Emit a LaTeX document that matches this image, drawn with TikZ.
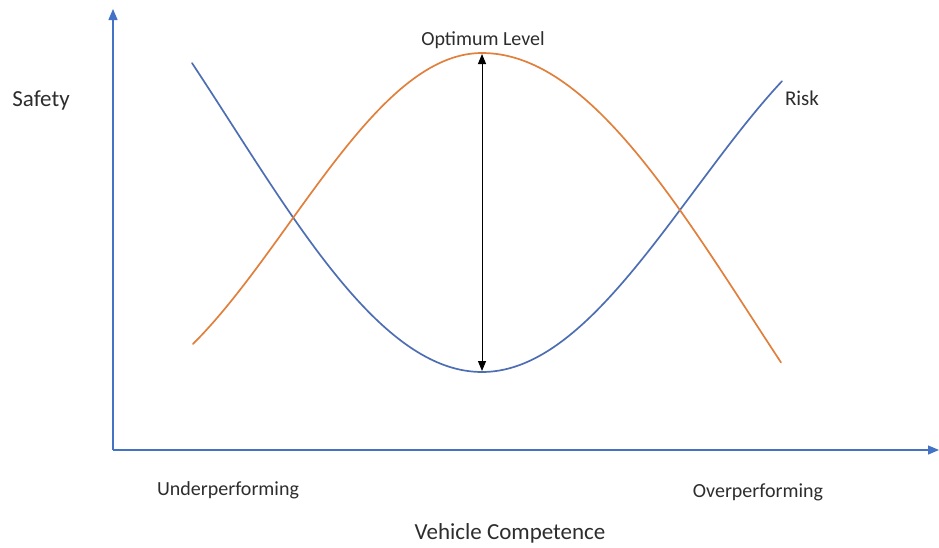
\documentclass[tikz,border=0pt]{standalone}
\usepackage{fontspec}
\setmainfont{Carlito}
\usetikzlibrary{arrows.meta}
\definecolor{axisblue}{RGB}{68,114,196}
\definecolor{riskblue}{RGB}{78,110,180}
\definecolor{safeorange}{RGB}{225,128,60}
\definecolor{txt}{RGB}{45,45,45}
\tikzset{
  axisline/.style={draw=axisblue, line width=1.3pt, -{Triangle[length=11pt,width=9pt]}},
  curveline/.style={line width=1.7pt, line cap=round, line join=round},
  lbl/.style={text=txt, font=\fontsize{20}{24}\selectfont, inner sep=0pt},
  optarrow/.style={draw=black, line width=1pt, {Triangle[length=10pt,width=8pt]}-{Triangle[length=10pt,width=8pt]}}
}
\begin{document}
\begin{tikzpicture}[x=1pt, y=-1pt]
\useasboundingbox (0,0) rectangle (939,547);
\coordinate (origin) at (113,450);
\coordinate (ytip) at (113,9);
\coordinate (xtip) at (939,450);
\draw[axisline] (origin) -- (ytip);
\draw[axisline] (origin) -- (xtip);
% Risk curve (blue)
\draw[curveline, draw=riskblue]
  plot[domain=192:482, samples=90, variable=\t] (\t, {123.2+248.8*cos(0.3586*(\t-482))})
  -- plot[domain=482:782, samples=90, variable=\t] (\t, {190.4+181.6*cos(0.4233*(\t-482))});
% Safety curve (orange)
\draw[curveline, draw=safeorange]
  plot[domain=193:482, samples=90, variable=\t] (\t, {224-171*cos(0.4655*(\t-482))})
  -- plot[domain=482:781, samples=90, variable=\t] (\t, {318-265*cos(0.3333*(\t-482))});
\coordinate (opttop) at (482,54);
\coordinate (optbot) at (482,371);
\draw[optarrow] (opttop) -- (optbot);
\node[lbl] (optimum) at (483,40) {Optimum Level};
\node[lbl, font=\fontsize{21}{25}\selectfont] (risk) at (802,98) {Risk};
\node[lbl, font=\fontsize{23}{27}\selectfont] (safety) at (41,100) {Safety};
\node[lbl] (under) at (228,490) {Underperforming};
\node[lbl] (over) at (758,492) {Overperforming};
\node[lbl, font=\fontsize{23}{27}\selectfont] (vc) at (510,533) {Vehicle Competence};
\end{tikzpicture}
\end{document}
